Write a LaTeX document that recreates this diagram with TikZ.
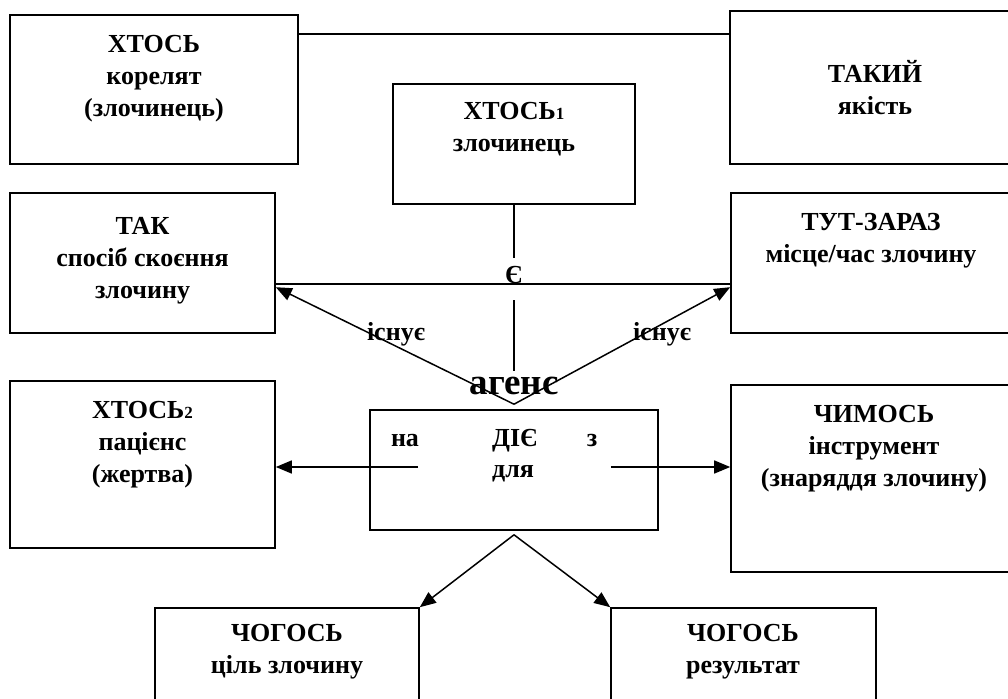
\documentclass[tikz,border=0pt]{standalone}
\usepackage{fontspec}
\setmainfont{Liberation Serif}
\usepackage{tikz}
\usetikzlibrary{calc}
\usetikzlibrary{positioning}
\usetikzlibrary{arrows.meta}

\begin{document}
\begin{tikzpicture}[x=1pt, y=-1pt,
  box/.style={draw, line width=1.6pt, inner sep=0},
  txt/.style={font=\bfseries\fontsize{26}{32}\selectfont, align=center, inner sep=0},
  ln/.style={line width=1.5pt},
  arr/.style={line width=1.5pt, -{Triangle[length=16pt, width=13pt]}}]

\useasboundingbox (0,0) rectangle (1008,698);

\node[box, minimum width=288pt, minimum height=149pt] (korel) at (154,89.5) {};
\node[box, minimum width=290pt, minimum height=153pt] (yakist) at (875,87.5) {};
\node[box, minimum width=242pt, minimum height=120pt] (zloch) at (514,144) {};
\node[box, minimum width=265pt, minimum height=140pt] (tak) at (142.5,263) {};
\node[box, minimum width=289pt, minimum height=140pt] (tut) at (875.5,263) {};
\node[box, minimum width=265pt, minimum height=167pt] (xtos2) at (142.5,464.5) {};
\node[box, minimum width=288pt, minimum height=120pt] (die) at (514,470) {};
\node[box, minimum width=289pt, minimum height=187pt] (chym) at (875.5,478.5) {};
\node[box, minimum width=264pt, minimum height=152pt] (tsil) at (287,684) {};
\node[box, minimum width=265pt, minimum height=152pt] (rez) at (743.5,684) {};

\node[txt] (korelT) at (154,79) {ХТОСЬ\\корелят\\(злочинець)};
\node[txt] (yakistT) at (875,88) {ТАКИЙ\\якість};
\node[txt] (zlochT) at (514,129.5) {ХТОСЬ{\fontsize{17}{17}\selectfont 1}\\злочинець};
\node[txt] (takT) at (142.5,261) {ТАК\\спосіб скоєння\\злочину};
\node[txt] (tutT) at (871,241) {ТУТ-ЗАРАЗ\\місце/час злочину};
\node[txt] (xtos2T) at (142.5,445) {ХТОСЬ{\fontsize{17}{17}\selectfont 2}\\пацієнс\\(жертва)};
\node[txt] (chymT) at (874,449) {ЧИМОСЬ\\інструмент\\(знаряддя злочину)};
\node[txt] (tsilT) at (287,652) {ЧОГОСЬ\\ціль злочину};
\node[txt] (rezT) at (743,652) {ЧОГОСЬ\\результат};

\node[txt, anchor=base] (na) at (405,446) {на};
\node[txt, anchor=base] (dieT) at (515,446) {ДІЄ};
\node[txt, anchor=base] (z) at (592,446) {з};
\node[txt, anchor=base] (dlya) at (513,477) {для};

\node[txt, anchor=base] (ye) at (514,283) {Є};
\node[txt, anchor=base, font=\bfseries\fontsize{37}{37}\selectfont] (agens) at (514,394) {агенс};
\node[txt, anchor=base] (isnL) at (396,340) {існує};
\node[txt, anchor=base] (isnR) at (662,340) {існує};

\coordinate (k1) at ($(korel.north east)+(0,20)$);
\draw[ln] (k1) -- (k1 -| yakist.west);

\draw[ln] (zloch.south) -- ($(ye.north)+(0,-8)$);
\draw[ln] ($(ye.south)+(0,17)$) -- ($(agens.north)+(0,-5)$);

\coordinate (h1) at ($(tak.north east)+(0,92)$);
\draw[ln] (h1) -- (h1 -| tut.west);

\coordinate (ag) at ($(die.north)+(0,-5)$);
\draw[arr] (ag) -- ($(tak.north east)+(0,95)$);
\draw[arr] (ag) -- ($(tut.north west)+(0,95)$);

\coordinate (dl) at ($(die.west)+(49,-3)$);
\coordinate (dr) at ($(die.east)+(-48,-3)$);
\draw[arr] (dl) -- (dl -| xtos2.east);
\draw[arr] (dr) -- (dr -| chym.west);

\coordinate (ag2) at ($(die.south)+(0,4)$);
\draw[arr] (ag2) -- (tsil.north east);
\draw[arr] (ag2) -- (rez.north west);

\end{tikzpicture}
\end{document}
